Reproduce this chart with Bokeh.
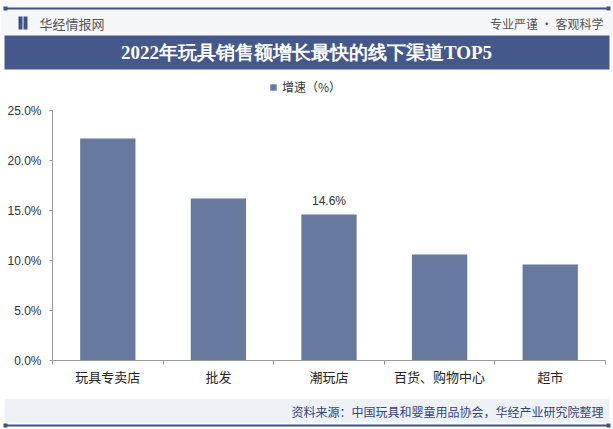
from bokeh.plotting import figure
from bokeh.layouts import column
from bokeh.models import (ColumnDataSource, Range1d, FixedTicker, PrintfTickFormatter,
                          Legend, LegendItem)
from bokeh.core.properties import value
from bokeh.embed import file_html
from bokeh.resources import INLINE

# ---- data ----
categories = ["玩具专卖店", "批发", "潮玩店", "百货、购物中心", "超市"]
growth = [22.2, 16.2, 14.6, 10.6, 9.6]
shown_labels = ["", "", "14.6%", "", ""]
y_ticks = [0, 5, 10, 15, 20, 25]

title_text = "2022年玩具销售额增长最快的线下渠道TOP5"
series_name = "增速（%）"
source_text = "资料来源：中国玩具和婴童用品协会，华经产业研究院整理"

W = 613
NAVY = "#3f5286"
BANNER = "#45588b"
BAR = "#67799f"
CJK = "Noto Sans CJK SC"

def deco_fig(h):
    f = figure(width=W, height=h, x_range=Range1d(0, W), y_range=Range1d(h, 0),
               toolbar_location=None, output_backend="svg",
               x_axis_location=None, y_axis_location=None, frame_align=False,
               min_border=0, min_border_left=0, min_border_right=0,
               min_border_top=0, min_border_bottom=0)
    f.grid.visible = False
    f.outline_line_color = None
    f.background_fill_color = "white"
    f.border_fill_color = "white"
    return f

# ---- header ----
H1 = 70
hdr = deco_fig(H1)
hdr.quad(left=[0], right=[W], top=[0], bottom=[35], fill_color="#f6f7fb", line_color=None)
hdr.segment(x0=[4], y0=[8], x1=[609], y1=[8], line_color=NAVY, line_width=2)
hdr.rect(x=[5, 608], y=[8, 8], width=4, height=4, fill_color=NAVY, line_color=None)
# logo icon
hdr.quad(left=[18], right=[22], top=[16], bottom=[29], fill_color=NAVY, line_color=None)
hdr.quad(left=[23], right=[27], top=[16], bottom=[29], fill_color=NAVY, line_color=None)
hdr.text(x=[39], y=[23], text=["华经情报网"], text_font=value(CJK), text_font_size="13px",
         text_color="#555555", text_baseline="middle", text_align="left")
hdr.text(x=[603], y=[23], text=["专业严谨 • 客观科学"], text_font=value(CJK), text_font_size="12px",
         text_color="#555555", text_baseline="middle", text_align="right")
hdr.quad(left=[4], right=[609], top=[35], bottom=[69], fill_color=BANNER, line_color=None)
hdr.text(x=[306], y=[52], text=[title_text], text_font=value("Liberation Serif"), text_font_style="bold",
         text_font_size="19px", text_color="white", text_baseline="middle", text_align="center")

# ---- main chart ----
H2 = 328
xs = [i + 0.5 for i in range(len(categories))]
src = ColumnDataSource(dict(x=xs, top=growth, lab=shown_labels))

p = figure(width=W, height=H2, x_range=Range1d(0, len(categories)), y_range=Range1d(0, 29.0),
           toolbar_location=None, output_backend="svg", frame_align=False,
           min_border_left=52, min_border_right=8, min_border_top=0, min_border_bottom=38)
p.grid.visible = False
p.outline_line_color = None
p.border_fill_color = "white"

r = p.vbar(x="x", top="top", width=0.5, source=src, fill_color=BAR, line_color=None)
p.text(x="x", y="top", text="lab", source=src, text_font=value("Liberation Sans"), text_font_size="12px",
       text_color="#333333", text_align="center", text_baseline="bottom", y_offset=-7)

xa = p.xaxis[0]
xa.ticker = FixedTicker(ticks=xs, minor_ticks=list(range(len(categories) + 1)))
xa.major_label_overrides = {x: c for x, c in zip(xs, categories)}
xa.major_tick_line_color = None
xa.major_tick_out = 0
xa.minor_tick_in = 0
xa.minor_tick_out = 4
xa.minor_tick_line_color = "#999999"
xa.axis_line_color = "#999999"
xa.major_label_standoff = 2
xa.major_label_text_font = CJK
xa.major_label_text_font_size = "13px"
xa.major_label_text_color = "#222222"

ya = p.yaxis[0]
ya.ticker = FixedTicker(ticks=y_ticks, minor_ticks=[])
ya.bounds = (0, 25)
ya.formatter = PrintfTickFormatter(format="%.1f%%")
ya.axis_line_color = "#999999"
ya.major_tick_line_color = "#999999"
ya.major_tick_in = 0
ya.major_tick_out = 3
ya.minor_tick_line_color = None
ya.major_label_standoff = 8
ya.major_label_text_font = "Liberation Sans"
ya.major_label_text_font_size = "12px"
ya.major_label_text_color = "#333333"

leg = Legend(items=[LegendItem(label=series_name, renderers=[r])], location=(217, 265),
             background_fill_alpha=0, border_line_color=None, padding=0, margin=0,
             label_text_font=CJK, label_text_font_size="12px", label_text_color="#333333",
             glyph_width=8, glyph_height=8, label_standoff=5)
p.add_layout(leg)

# ---- footer ----
H3 = 31
ftr = deco_fig(H3)
ftr.quad(left=[4], right=[609], top=[0], bottom=[24], fill_color="#eef1f6", line_color=None)
ftr.text(x=[603], y=[13], text=[source_text], text_font=value(CJK), text_font_size="12px",
         text_color="#34457a", text_baseline="middle", text_align="right")
ftr.segment(x0=[4], y0=[27], x1=[609], y1=[27], line_color=NAVY, line_width=2)
ftr.rect(x=[5, 608], y=[27, 27], width=4, height=4, fill_color=NAVY, line_color=None)

layout = column(hdr, p, ftr, spacing=0)
open("out.html", "w").write(file_html(layout, INLINE))
